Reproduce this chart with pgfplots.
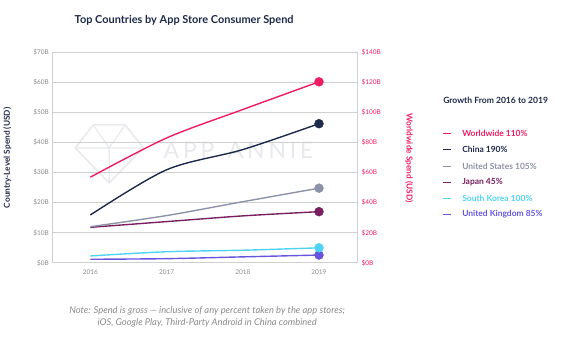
\documentclass[border=0pt]{standalone}
\usepackage{pgfplots}
\pgfplotsset{compat=1.18}
\usepackage{fontspec}
\setmainfont{Lato}
\definecolor{navy}{HTML}{1E2A4A}
\definecolor{wpink}{HTML}{EE1D63}
\definecolor{usgray}{HTML}{8C93A8}
\definecolor{jpurple}{HTML}{7A1E5F}
\definecolor{skblue}{HTML}{4FD3F5}
\definecolor{ukviolet}{HTML}{6656DE}
\definecolor{gridc}{HTML}{D0D0D0}
\definecolor{tickc}{HTML}{8A8A8A}
\definecolor{wm}{HTML}{E8E9ED}
\begin{document}
\begin{tikzpicture}[x=1bp,y=1bp]
\path (0,0) rectangle (574,356);
% watermark
\draw[wm, line width=1.6pt, line join=round] (75,208) -- (93,231) -- (125,231) -- (143,208) -- (109,173) -- cycle;
\draw[wm, line width=1.2pt] (75,208) -- (143,208) (93,231) -- (109,208) -- (125,231) (109,208) -- (109,173);
\node[wm, font=\fontsize{23}{23}\selectfont, anchor=west] at (160,206) {A\,P\,P\, \,A\,N\,N\,I\,E};
% title
\node[navy, font=\fontsize{11}{13}\selectfont\bfseries] at (184,336) {Top Countries by App Store Consumer Spend};
\begin{axis}[
 at={(52bp,93bp)}, anchor=south west,
 scale only axis, width=305bp, height=211bp,
 xmin=2015.5, xmax=2019.5, ymin=0, ymax=70,
 xtick={2016,2017,2018,2019}, xticklabels={2016,2017,2018,2019},
 ytick={0,10,...,70}, yticklabels={\$0B,\$10B,\$20B,\$30B,\$40B,\$50B,\$60B,\$70B},
 ymajorgrids, grid style={gridc, line width=0.9pt},
 axis line style={gridc, line width=0.8pt},
 tick style={draw=none},
 ticklabel style={font=\fontsize{6.5}{7}\selectfont, text=tickc},
 xticklabel style={yshift=-3bp},
 clip=false,
]
\addplot[ukviolet, line width=1.4pt, smooth, tension=0.5] coordinates {(2016,1.2) (2017,1.4) (2018,2.0) (2019,2.6)};
\addplot[only marks, mark=*, mark size=4.5pt, ukviolet] coordinates {(2019,2.6)};
\addplot[skblue, line width=1.4pt, smooth, tension=0.5] coordinates {(2016,2.3) (2017,3.7) (2018,4.2) (2019,5.0)};
\addplot[only marks, mark=*, mark size=4.5pt, skblue] coordinates {(2019,5.0)};
\addplot[jpurple, line width=1.4pt, smooth, tension=0.5] coordinates {(2016,11.8) (2017,13.7) (2018,15.6) (2019,17.0)};
\addplot[only marks, mark=*, mark size=4.5pt, jpurple] coordinates {(2019,17.0)};
\addplot[usgray, line width=1.4pt, smooth, tension=0.5] coordinates {(2016,12.0) (2017,15.7) (2018,20.3) (2019,24.8)};
\addplot[only marks, mark=*, mark size=4.5pt, usgray] coordinates {(2019,24.8)};
\addplot[navy, line width=1.4pt, smooth, tension=0.5] coordinates {(2016,15.9) (2017,30.9) (2018,37.6) (2019,46.2)};
\addplot[only marks, mark=*, mark size=4.5pt, navy] coordinates {(2019,46.2)};
\end{axis}
\begin{axis}[
 at={(52bp,93bp)}, anchor=south west,
 scale only axis, width=305bp, height=211bp,
 xmin=2015.5, xmax=2019.5, ymin=0, ymax=140,
 axis x line=none, axis y line*=right,
 axis line style={gridc, line width=0.8pt},
 ytick={0,20,...,140}, yticklabels={\$0B,\$20B,\$40B,\$60B,\$80B,\$100B,\$120B,\$140B},
 tick style={draw=none},
 yticklabel style={font=\fontsize{6.5}{7}\selectfont, text=wpink, anchor=west, xshift=1bp},
 clip=false,
]
\addplot[wpink, line width=1.4pt, smooth, tension=0.5] coordinates {(2016,56.9) (2017,82.9) (2018,101.8) (2019,120.2)};
\addplot[only marks, mark=*, mark size=4.5pt, wpink] coordinates {(2019,120.2)};
\end{axis}
% axis labels
\node[navy, rotate=90, font=\fontsize{8.3}{9}\selectfont\bfseries] at (7,198) {Country-Level Spend (USD)};
\node[wpink, rotate=-90, font=\fontsize{8.3}{9}\selectfont\bfseries] at (409,198) {Worldwide Spend (USD)};
% legend
\node[navy, anchor=west, font=\fontsize{8.6}{10}\selectfont\bfseries, inner sep=0pt] at (443,255.3) {Growth From 2016 to 2019};
\foreach \c/\t/\y in {wpink/Worldwide 110\%/133, navy/China 190\%/149.5, usgray/United States 105\%/166, jpurple/Japan 45\%/182.3, skblue/South Korea 100\%/198.3, ukviolet/United Kingdom 85\%/214.5}{
  \draw[\c, line width=0.8pt] (443,356-\y) -- (451,356-\y);
  \node[\c, anchor=west, font=\fontsize{8.5}{9}\selectfont\bfseries, inner sep=0pt] at (462,356-\y) {\t};
}
% note
\node[tickc, align=center, font=\fontsize{9.4}{11.5}\selectfont\itshape] at (207,39) {Note: Spend is gross --- inclusive of any percent taken by the app stores;\\iOS, Google Play, Third-Party Android in China combined};
\end{tikzpicture}
\end{document}
